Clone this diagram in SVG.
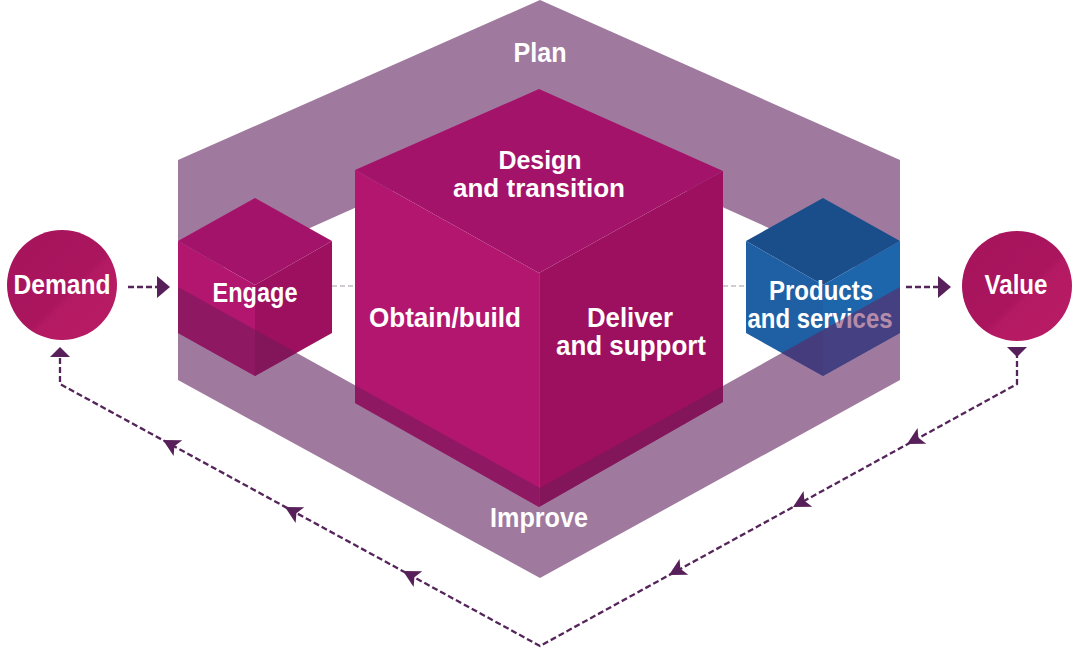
<svg xmlns="http://www.w3.org/2000/svg" xmlns:xlink="http://www.w3.org/1999/xlink" width="1080" height="652" viewBox="0 0 1080 652">
  <style>
    .lbl { font-family: "Liberation Sans", Arial, sans-serif; font-weight: 700; font-size: 27px; fill: #ffffff; text-anchor: middle; }
    .sm { font-size: 25px; }
    .ring { fill: #A07A9E; fill-rule: evenodd; }
    .shade { fill: #691956; opacity: 0.5; }
    .dash { fill: none; stroke: #55245A; stroke-width: 2.3; stroke-dasharray: 6 3; }
    .gdash { fill: none; stroke: #C4BCC4; stroke-width: 1.5; stroke-dasharray: 5 3; }
    .ah { fill: #58205A; }
    .m-top { fill: #A4136A; }
    .m-left { fill: #B3166F; }
    .m-right { fill: #9C105F; }
    .b-top { fill: #1A4E8B; }
    .b-left { fill: #1F5FA3; }
    .b-right { fill: #1E66AC; }
  </style>
  <defs>
    <clipPath id="improveClip">
      <path d="M178,287 L540,488 L900,287 L900,380 L540,578 L178,380 Z"/>
    </clipPath>
    <linearGradient id="circ" x1="0" y1="0" x2="1" y2="1">
      <stop offset="0" stop-color="#A6145C"/>
      <stop offset="0.55" stop-color="#AA155E"/>
      <stop offset="0.6" stop-color="#B41A63"/>
      <stop offset="1" stop-color="#B81B64"/>
    </linearGradient>
    <path id="ahH" d="M0,0 L-13,-11 L-13,11 Z"/>
    <path id="ahV" d="M0,0 L-10,-10 L-10,10 Z"/>
    <path id="ahM" d="M0,0 L-17,-9 L-13,0 L-17,9 Z"/>
  </defs>

  <g id="ring">
    <path class="ring" d="M540,0 L900,160 L900,380 L540,578 L178,380 L178,160 Z M178,287 L540,125 L900,287 L540,488 Z"/>
  </g>

  <g id="plan">
    <text class="lbl" x="540" y="62" textLength="53" lengthAdjust="spacingAndGlyphs">Plan</text>
  </g>

  <g id="connectors">
    <line class="gdash" x1="332" y1="286" x2="355" y2="286"/>
    <line class="gdash" x1="723" y1="286" x2="746" y2="286"/>
    <line class="dash" x1="128" y1="287" x2="158" y2="287"/>
    <use xlink:href="#ahH" class="ah" transform="translate(170,287)"/>
    <line class="dash" x1="906" y1="287" x2="939" y2="287"/>
    <use xlink:href="#ahH" class="ah" transform="translate(951,287)"/>
    <path class="dash" d="M1017,352 L1017,384 L540,646 L60,384 L60,352"/>
    <use xlink:href="#ahV" class="ah" transform="translate(1017,357) rotate(90)"/>
    <use xlink:href="#ahV" class="ah" transform="translate(60,347) rotate(-90)"/>
    <use xlink:href="#ahM" class="ah" transform="translate(907,444) rotate(151.2)"/>
    <use xlink:href="#ahM" class="ah" transform="translate(793,507) rotate(151.2)"/>
    <use xlink:href="#ahM" class="ah" transform="translate(669,575) rotate(151.2)"/>
    <use xlink:href="#ahM" class="ah" transform="translate(403,571) rotate(208.6)"/>
    <use xlink:href="#ahM" class="ah" transform="translate(285,507) rotate(208.6)"/>
    <use xlink:href="#ahM" class="ah" transform="translate(163,440) rotate(208.6)"/>
  </g>

  <g id="demand">
    <circle cx="62" cy="285" r="55" fill="url(#circ)"/>
    <text class="lbl" x="62" y="294" textLength="97" lengthAdjust="spacingAndGlyphs">Demand</text>
  </g>

  <g id="value">
    <circle cx="1017" cy="286" r="55" fill="url(#circ)"/>
    <text class="lbl" x="1016" y="294" textLength="63" lengthAdjust="spacingAndGlyphs">Value</text>
  </g>

  <g id="engage">
    <polygon class="m-top" points="255,198 332,241 255,285 178,241"/>
    <polygon class="m-left" points="178,241 255,285 255,376 178,333"/>
    <polygon class="m-right" points="255,285 332,241 332,333 255,376"/>
    <text class="lbl" x="255" y="302" textLength="85" lengthAdjust="spacingAndGlyphs">Engage</text>
    <polygon class="shade" clip-path="url(#improveClip)" points="255,198 332,241 332,333 255,376 178,333 178,241"/>
  </g>

  <g id="core">
    <polygon class="m-top" points="539,89 723,171 539,273 355,170"/>
    <polygon class="m-left" points="355,170 539,273 539,507 355,403"/>
    <polygon class="m-right" points="539,273 723,171 723,402 539,507"/>
    <line x1="539.5" y1="273" x2="539.5" y2="507" stroke="#C13A86" stroke-width="1" opacity="0.6"/>
    <text class="lbl sm" x="540" y="169" textLength="83" lengthAdjust="spacingAndGlyphs">Design</text>
    <text class="lbl sm" x="539" y="197" textLength="172" lengthAdjust="spacingAndGlyphs">and transition</text>
    <text class="lbl" x="445" y="327" textLength="152" lengthAdjust="spacingAndGlyphs">Obtain/build</text>
    <text class="lbl" x="630" y="327" textLength="86" lengthAdjust="spacingAndGlyphs">Deliver</text>
    <text class="lbl" x="631" y="355" textLength="150" lengthAdjust="spacingAndGlyphs">and support</text>
    <polygon class="shade" clip-path="url(#improveClip)" points="539,89 723,171 723,402 539,507 355,403 355,170"/>
  </g>

  <g id="products">
    <polygon class="b-top" points="823,198 900,241 823,285 746,241"/>
    <polygon class="b-left" points="746,241 823,285 823,376 746,333"/>
    <polygon class="b-right" points="823,285 900,241 900,333 823,376"/>
    <text class="lbl" x="821" y="300" textLength="104" lengthAdjust="spacingAndGlyphs">Products</text>
    <text class="lbl" x="820" y="328" textLength="145" lengthAdjust="spacingAndGlyphs">and services</text>
    <polygon class="shade" clip-path="url(#improveClip)" points="823,198 900,241 900,333 823,376 746,333 746,241"/>
  </g>

  <g id="improve">
    <text class="lbl" x="539" y="527" textLength="98" lengthAdjust="spacingAndGlyphs">Improve</text>
  </g>
</svg>
